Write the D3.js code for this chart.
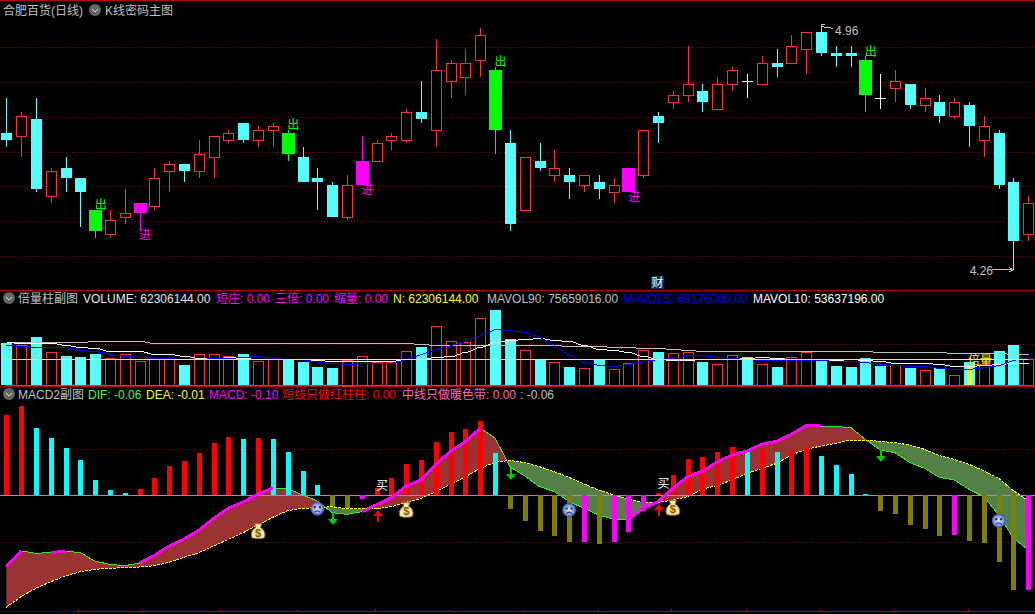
<!DOCTYPE html>
<html>
<head>
<meta charset="utf-8">
<style>
  body { margin: 0; background: #000; }
  svg { display: block; shape-rendering: crispEdges; font-family: "Liberation Sans", "Noto Sans CJK SC", sans-serif; font-size: 12px; }
</style>
<script src="https://cdn.jsdelivr.net/npm/d3@7"></script>
</head>
<body>
<svg id="chart" width="1035" height="614"></svg>
<script>
// K line, r = up, c = down, g = 出 signal, m = 进 signal, w = doji
const kinds = [
  "c","r","c","r","c","c","g","r","r","m",
  "r","r","c","r","r","r","c","r","r","g",
  "c","c","c","r","m","r","r","r","c","r",
  "r","r","r","g","c","r","c","r","c","r",
  "c","r","m","r","c","r","r","c","r","r",
  "w","r","c","r","r","c","c","c","g","w",
  "r","c","r","c","r","c","r","c","c","r"];
const highs = [4.75,4.71,4.75,4.55,4.58,4.52,4.43,4.43,4.49,4.45,
  4.55,4.57,4.56,4.63,4.64,4.66,4.68,4.67,4.68,4.66,
  4.61,4.55,4.51,4.53,4.64,4.63,4.65,4.72,4.80,4.92,
  4.86,4.89,4.95,4.84,4.66,4.58,4.62,4.60,4.55,4.53,
  4.53,4.52,4.55,4.66,4.71,4.77,4.90,4.79,4.81,4.84,
  4.82,4.87,4.89,4.93,4.94,4.96,4.90,4.90,4.87,4.82,
  4.83,4.79,4.78,4.76,4.75,4.74,4.70,4.66,4.52,4.47];
const bodyTops = [4.65,4.70,4.69,4.54,4.55,4.52,4.43,4.40,4.42,4.45,
  4.52,4.56,4.56,4.59,4.64,4.65,4.68,4.66,4.67,4.65,
  4.58,4.52,4.50,4.50,4.57,4.62,4.64,4.71,4.71,4.83,
  4.85,4.85,4.93,4.83,4.62,4.58,4.57,4.55,4.53,4.53,
  4.51,4.50,4.55,4.66,4.70,4.76,4.79,4.77,4.79,4.83,
  4.80,4.85,4.85,4.90,4.94,4.94,4.88,4.88,4.86,4.75,
  4.80,4.79,4.75,4.74,4.74,4.73,4.67,4.65,4.51,4.45];
const bodyBottoms = [4.63,4.64,4.49,4.47,4.52,4.48,4.37,4.36,4.41,4.42,
  4.44,4.54,4.54,4.54,4.58,4.63,4.63,4.63,4.66,4.59,
  4.51,4.51,4.41,4.41,4.50,4.57,4.63,4.63,4.69,4.66,
  4.80,4.81,4.86,4.66,4.39,4.43,4.55,4.53,4.51,4.50,
  4.49,4.48,4.48,4.53,4.68,4.74,4.76,4.74,4.72,4.79,
  4.80,4.79,4.84,4.85,4.89,4.88,4.87,4.87,4.76,4.75,
  4.78,4.73,4.73,4.70,4.70,4.67,4.63,4.50,4.34,4.36];
const lows = [4.61,4.58,4.48,4.45,4.48,4.38,4.35,4.35,4.39,4.37,
  4.43,4.48,4.51,4.52,4.52,4.62,4.62,4.61,4.61,4.57,
  4.51,4.43,4.41,4.40,4.50,4.57,4.60,4.62,4.68,4.61,
  4.75,4.76,4.81,4.59,4.37,4.43,4.54,4.51,4.46,4.48,
  4.46,4.45,4.48,4.52,4.62,4.72,4.74,4.71,4.72,4.77,
  4.75,4.79,4.81,4.85,4.82,4.87,4.84,4.84,4.71,4.72,
  4.74,4.72,4.71,4.68,4.69,4.61,4.58,4.49,4.26,4.34];
const priceGrid = [4.897,4.797,4.697,4.597,4.497,4.397,4.297];

// volume, millions
const volumes = [102,96,116,79.5,70.7,68.3,75.5,65,74.7,57.8,
  65,62.7,49,74.7,74.7,70,75.5,57.8,62.7,62.7,
  56,44,41.8,62,70,55.4,55.4,82,92.4,142,
  106,103.6,161.5,181.5,111.6,84.4,62.7,55.4,44,41,
  62.7,38.6,53,84.4,80.3,77,80.3,56,50.6,72.3,
  67.5,50.6,44,67.5,79.5,60.3,46.6,44,65.9,46.6,
  48.2,41.8,36,41.8,24,56,50.6,82.7,97,62.3];
const mavol90 = [105,105,105,105,105,105,106,106,106,106,
  102,102,102,102,102,102,102,102,102,102,
  102,102,102,101,101,101,101,101,98.8,96.4,
  96.4,96.4,96.4,96.4,96.4,96.4,96.4,96.4,95.6,94,
  94,92.4,92.4,90,90,88.4,84.3,82,82,82,
  82,82,82,82,82,82,82,82,82,79.5,
  79.5,79.5,79.5,79.5,77,77,77,77,75.66,75.66];
const mavol5 = [96.4,95.6,91.6,91.6,91.6,86,82.7,76.3,69.9,67.5,
  65.1,65.1,62.7,64.3,65.9,66.7,67.5,69.9,65.9,64.3,
  62.7,56.2,53,50.6,53,53,54.6,62.7,75.5,88.4,
  96.4,106,122,136.6,132.5,129.3,116.5,96.4,73.9,57,
  49,47.4,51.4,57.8,62.7,66.7,73.9,73.1,68.3,66.7,
  64.3,61,60.2,61,61,60.2,59.4,58.6,56.2,52.2,
  48.2,47.4,45.8,41.8,38.6,38.6,43.4,49.8,60.2,69.18];
const mavol10 = [105.2,102.8,102.8,102,98,92.4,90,81.9,81.9,81.9,
  76.3,74.7,69.9,65.9,64.3,67.5,65.9,64.3,64.3,63.5,
  64.3,61.9,59.4,59.4,58.6,57.8,59.4,62.7,64.3,69.1,
  71.5,79.5,91.6,104.4,110,111.7,114,110,106,98,
  88.4,86,80.3,69.9,62.7,61,61.9,62.7,62.7,64.3,
  65,67.5,65,64.3,64.3,61.9,60.2,57.8,60.2,57.8,
  54.6,54.6,53,50.6,45.8,45.8,48.2,50.6,53.6,53.6];
const nVolume = 62.3;
const volGrid = 98.8;
const beiliangBar = 65;
const beiliangLevel = 45.8;

// MACD
const macd = [0.085,0.094,0.071,0.061,0.050,0.037,0.016,0.006,0.002,0.007,
  0.018,0.031,0.036,0.045,0.055,0.062,0.059,0.061,0.059,0.046,
  0.026,0.011,-0.011,-0.013,-0.004,0.008,0.018,0.033,0.037,0.056,
  0.067,0.070,0.078,0.045,-0.014,-0.027,-0.038,-0.043,-0.049,-0.049,
  -0.051,-0.049,-0.039,-0.017,0.002,0.022,0.038,0.040,0.046,0.051,
  0.046,0.049,0.046,0.048,0.051,0.042,0.032,0.023,0.001,-0.017,
  -0.020,-0.031,-0.036,-0.043,-0.042,-0.048,-0.050,-0.070,-0.100,-0.100];
// r red, c cyan, o olive, m magenta
const macdKinds = ["r","r","c","c","c","c","c","c","c","r",
  "r","r","r","r","r","r","c","r","c","c",
  "c","c","o","o","m","r","r","r","r","r",
  "r","r","r","c","o","o","o","o","o","m",
  "o","m","m","m","r","r","r","r","r","r",
  "c","r","c","r","r","c","c","c","c","o",
  "o","o","o","o","m","o","o","o","o","m"];
const dif = [-0.0753,-0.0588,-0.0612,-0.0605,-0.0591,-0.0605,-0.0697,-0.0729,-0.0743,-0.0715,
  -0.0634,-0.0535,-0.0461,-0.0370,-0.0243,-0.0134,-0.0070,0.0014,0.0077,0.0070,
  0.0004,-0.0060,-0.0183,-0.0201,-0.0172,-0.0099,-0.0025,0.0099,0.0162,0.0327,
  0.0468,0.0567,0.0708,0.0605,0.0303,0.0204,0.0092,0.0039,-0.0067,-0.0137,
  -0.0208,-0.0253,-0.0253,-0.0137,-0.0067,0.0074,0.0197,0.0257,0.0352,0.0426,
  0.0468,0.0539,0.0570,0.0644,0.0736,0.0732,0.0725,0.0718,0.0591,0.0479,
  0.0451,0.0345,0.0285,0.0190,0.0162,0.0063,-0.0014,-0.0208,-0.0454,-0.0577];
const dea = [-0.1183,-0.1070,-0.0982,-0.0912,-0.0852,-0.0806,-0.0781,-0.0771,-0.0764,-0.0757,
  -0.0743,-0.0708,-0.0655,-0.0605,-0.0535,-0.0465,-0.0394,-0.0313,-0.0232,-0.0162,
  -0.0137,-0.0130,-0.0120,-0.0141,-0.0144,-0.0141,-0.0120,-0.0074,-0.0032,0.0039,
  0.0120,0.0197,0.0285,0.0348,0.0370,0.0345,0.0303,0.0250,0.0190,0.0120,
  0.0056,0.0004,-0.0042,-0.0074,-0.0077,-0.0049,-0.0014,0.0063,0.0106,0.0162,
  0.0232,0.0285,0.0338,0.0426,0.0486,0.0521,0.0549,0.0584,0.0584,0.0570,
  0.0556,0.0532,0.0486,0.0419,0.0380,0.0327,0.0260,0.0180,0.0049,-0.0056];
const macdGrid = [0.049,-0.049];
// stretches where DIF gets the thick magenta line
const risingSpans = [[0,1],[3,4],[9,18],[24,32],[42,55]];
// markers: [bar, macd value]
const moneyBags = [[17,-0.0384],[27,-0.0158],[45,-0.0137]];
const sadFaces = [[21,-0.0141],[38,-0.0155],[67,-0.0268]];
const downArrows = [[22,-0.019],[34,0.0285],[59,0.0479]];
const upArrows = [[25,-0.0155],[44,-0.0092]];
const buyMarks = [[25,0.0106],[44,0.0127]];
// bottom axis ticks, in bars
const timeTicks = [4.86,9.18,14.45,19.65,24.92,29.91,34.91,39.91,44.91,49.91,54.96,59.96,64.96];

const WIDTH = 1035;
const bars = d3.range(highs.length);
const kColor = { r: "#ff3232", c: "#54ffff", g: "#00ff00", m: "#ff00ff", w: "#ffffff" };
const macdColor = { r: "#ff0000", c: "#00ffff", o: "#808000", m: "#ff00ff" };
const LINE_RED = "#b80000";
const GRID_RED = "#900000";

const svg = d3.select("#chart");
svg.append("rect").attr("width", WIDTH).attr("height", 614).attr("fill", "#000");

const x = d3.scaleLinear().domain([0, bars.length - 1]).range([6.3, 1028.3]);
const px = (i) => Math.round(x(i));
const yPrice = d3.scaleLinear().domain([4.9, 4.3]).range([45.67, 255.25]);
const yVol = d3.scaleLinear().domain([0, 181.5]).range([385.33, 310]);
const yMacd = d3.scaleLinear().domain([-0.1, 0.1]).range([590, 400.67]);

// frame lines
[0.5, 290.5, 386.5, 611.5].forEach((y) => {
  svg.append("line").attr("x1", 0).attr("x2", WIDTH).attr("y1", y).attr("y2", y)
    .attr("stroke", LINE_RED);
});

function dotted(g, ys) {
  g.selectAll(".grid")
    .data(ys)
    .join("line")
    .attr("class", "grid")
    .attr("x1", 0)
    .attr("x2", WIDTH)
    .attr("y1", (d) => Math.round(d) + 0.5)
    .attr("y2", (d) => Math.round(d) + 0.5)
    .attr("stroke", GRID_RED)
    .attr("stroke-dasharray", "1,2");
}

// candles ------------------------------------
const kPane = svg.append("g");
dotted(kPane, priceGrid.map(yPrice));

const candle = kPane.selectAll(".candle").data(bars).join("g").attr("class", "candle");
candle.append("rect")
  .attr("x", (i) => px(i))
  .attr("width", 1)
  .attr("y", (i) => Math.round(yPrice(highs[i])))
  .attr("height", (i) => Math.max(1, Math.round(yPrice(lows[i])) - Math.round(yPrice(highs[i]))))
  .attr("fill", (i) => kColor[kinds[i]]);
candle.append("rect")
  .attr("x", (i) => {
    const k = kinds[i];
    if (k === "r") return px(i) - 5 + 0.5;
    return px(i) - (k === "g" || k === "m" ? 6 : 5);
  })
  .attr("width", (i) => {
    const k = kinds[i];
    return k === "r" ? 10 : k === "g" || k === "m" ? 13 : 11;
  })
  .attr("y", (i) => Math.round(yPrice(bodyTops[i])) + (kinds[i] === "r" ? 0.5 : 0))
  .attr("height", (i) => {
    const h = Math.round(yPrice(bodyBottoms[i])) - Math.round(yPrice(bodyTops[i]));
    return kinds[i] === "w" ? 1 : Math.max(kinds[i] === "r" ? 1 : 2, h);
  })
  .attr("fill", (i) => (kinds[i] === "r" ? "#000" : kColor[kinds[i]]))
  .attr("stroke", (i) => (kinds[i] === "r" ? kColor.r : "none"));
kPane.selectAll(".signal")
  .data(bars.filter((i) => kinds[i] === "g" || kinds[i] === "m"))
  .join("text")
  .attr("class", "signal")
  .attr("x", (i) => x(i) + 5.5)
  .attr("y", (i) => (kinds[i] === "g" ? yPrice(highs[i]) - 5 : yPrice(lows[i]) + 4) + 4.5)
  .attr("text-anchor", "middle")
  .attr("fill", (i) => kColor[kinds[i]])
  .text((i) => (kinds[i] === "g" ? "出" : "进"));

// high / low notes
const NOTE = "#c0c0c0";
const hiBar = d3.maxIndex(highs);
const loBar = d3.minIndex(lows);
const noteLine = d3.line();
kPane.append("path")
  .attr("d", noteLine([[px(hiBar), yPrice(highs[hiBar])], [px(hiBar) + 4, yPrice(highs[hiBar])]])
    + noteLine([[px(hiBar) + 1, yPrice(highs[hiBar]) + 2], [px(hiBar) + 9, yPrice(highs[hiBar]) + 3], [px(hiBar) + 12, yPrice(highs[hiBar]) + 4]]))
  .attr("fill", "none").attr("stroke", NOTE);
kPane.append("text").attr("x", px(hiBar) + 14).attr("y", yPrice(highs[hiBar]) + 10)
  .attr("fill", NOTE).text(d3.format(".2f")(highs[hiBar]));
kPane.append("path")
  .attr("d", noteLine([[px(loBar) - 21, yPrice(lows[loBar]) + 0.5], [px(loBar), yPrice(lows[loBar]) + 0.5]])
    + noteLine([[px(loBar) - 4, yPrice(lows[loBar]) - 2], [px(loBar), yPrice(lows[loBar]) + 0.5], [px(loBar) - 4, yPrice(lows[loBar]) + 3]]))
  .attr("fill", "none").attr("stroke", NOTE);
kPane.append("text").attr("x", px(loBar) - 20).attr("y", yPrice(lows[loBar]) + 6)
  .attr("text-anchor", "end").attr("fill", NOTE).text(d3.format(".2f")(lows[loBar]));

// 财 badge
svg.append("rect").attr("x", 651).attr("y", 276).attr("width", 13).attr("height", 13).attr("fill", "#003366");
svg.append("text").attr("x", 657.5).attr("y", 287).attr("text-anchor", "middle").attr("fill", "#fff").text("财");

// volume ------------------------------------
const volPane = svg.append("g");
dotted(volPane, [yVol(volGrid)]);
const isDownBar = (i) => kinds[i] === "c" || kinds[i] === "g" || kinds[i] === "w";
volPane.selectAll(".vol")
  .data(bars)
  .join("rect")
  .attr("class", "vol")
  .attr("x", (i) => px(i) - 5 + (isDownBar(i) ? 0 : 0.5))
  .attr("width", (i) => (isDownBar(i) ? 11 : 10))
  .attr("y", (i) => Math.round(yVol(volumes[i])) + (isDownBar(i) ? 0 : 0.5))
  .attr("height", (i) => Math.round(yVol(0) - yVol(volumes[i])))
  .attr("fill", (i) => (isDownBar(i) ? kColor.c : "#000"))
  .attr("stroke", (i) => (isDownBar(i) ? "none" : kColor.r));
volPane.append("rect")
  .attr("x", px(beiliangBar) - 2)
  .attr("width", 5)
  .attr("y", yVol(beiliangLevel))
  .attr("height", yVol(0) - yVol(beiliangLevel))
  .attr("fill", "#ffff00");
volPane.append("line").attr("x1", 6).attr("x2", px(bars.length - 1)).attr("y1", 385.5).attr("y2", 385.5)
  .attr("stroke", "#ff00ff");

const volLine = d3.line().x((i) => px(i) + 0.5);
const drawVolLine = (values, color, curve) => {
  volPane.append("path")
    .attr("d", volLine.y((i) => Math.round(yVol(values[i])) + 0.5).curve(curve)(bars))
    .attr("fill", "none")
    .attr("stroke", color);
};
drawVolLine(mavol90, "#c0c0c0", d3.curveBumpX);
drawVolLine(mavol10, "#ffffff", d3.curveBumpX);
drawVolLine(mavol5, "#0000ff", d3.curveLinear);
volPane.append("line")
  .attr("x1", 6).attr("x2", px(bars.length - 1))
  .attr("y1", Math.round(yVol(nVolume)) + 0.5).attr("y2", Math.round(yVol(nVolume)) + 0.5)
  .attr("stroke", "#ffff00");
volPane.append("text").attr("x", x(beiliangBar) - 1).attr("y", 365).attr("fill", "#ffff00").text("倍量");

// MACD ------------------------------------
const macdPane = svg.append("g");
dotted(macdPane, macdGrid.map(yMacd));

const defs = svg.append("defs");
const bandArea = (y0) => d3.area().x((i) => x(i)).y0(y0).y1((i) => yMacd(dea[i]));
defs.append("clipPath").attr("id", "above-dea").append("path").attr("d", bandArea(0)(bars));
defs.append("clipPath").attr("id", "below-dea").append("path").attr("d", bandArea(614)(bars));
const band = d3.area().x((i) => x(i)).y0((i) => yMacd(dea[i])).y1((i) => yMacd(dif[i]));
macdPane.append("path").attr("d", band(bars)).attr("fill", "#9c3333").attr("clip-path", "url(#above-dea)");
macdPane.append("path").attr("d", band(bars)).attr("fill", "#538045").attr("clip-path", "url(#below-dea)");

const macdLine = d3.line().x((i) => x(i));
macdPane.append("path")
  .attr("d", macdLine.y((i) => yMacd(dif[i]))(bars))
  .attr("fill", "none").attr("stroke", "#33ee22");
macdPane.append("path")
  .attr("d", macdLine.y((i) => yMacd(dea[i]))(bars))
  .attr("fill", "none").attr("stroke", "#ffff00").attr("stroke-dasharray", "3,1");

macdPane.append("line").attr("x1", 0).attr("x2", WIDTH)
  .attr("y1", Math.round(yMacd(0)) + 0.5).attr("y2", Math.round(yMacd(0)) + 0.5)
  .attr("stroke", "#e868b8");

macdPane.selectAll(".macd-bar")
  .data(bars)
  .join("rect")
  .attr("class", "macd-bar")
  .attr("x", (i) => px(i) - 2)
  .attr("width", 5)
  .attr("y", (i) => Math.min(yMacd(0), yMacd(macd[i])))
  .attr("height", (i) => Math.abs(yMacd(macd[i]) - yMacd(0)))
  .attr("fill", (i) => macdColor[macdKinds[i]]);

risingSpans.forEach(([from, to]) => {
  macdPane.append("path")
    .attr("d", macdLine.y((i) => yMacd(dif[i]))(d3.range(from, to + 1)))
    .attr("fill", "none")
    .attr("stroke", "#ff00ff")
    .attr("stroke-width", 3);
});

// arrows
macdPane.selectAll(".down-arrow")
  .data(downArrows)
  .join("path")
  .attr("class", "down-arrow")
  .attr("transform", (d) => `translate(${px(d[0])},${Math.round(yMacd(d[1]))})`)
  .attr("d", "M0,0H2V6H6L1,12L-4,6H0Z")
  .attr("fill", "#00cc00")
  .style("shape-rendering", "auto");
macdPane.selectAll(".up-arrow")
  .data(upArrows)
  .join("path")
  .attr("class", "up-arrow")
  .attr("transform", (d) => `translate(${px(d[0])},${Math.round(yMacd(d[1]))})`)
  .attr("d", "M1,0L6,6H2V12H0V6H-4Z")
  .attr("fill", "#ff0000")
  .style("shape-rendering", "auto");

macdPane.selectAll(".buy")
  .data(buyMarks)
  .join("text")
  .attr("class", "buy")
  .attr("x", (d) => x(d[0]) + 5.5)
  .attr("y", (d) => yMacd(d[1]) + 4.5)
  .attr("text-anchor", "middle")
  .attr("fill", "#fff")
  .text("买");

// money bags
const bag = macdPane.selectAll(".bag")
  .data(moneyBags)
  .join("g")
  .attr("class", "bag")
  .attr("transform", (d) => `translate(${x(d[0])},${yMacd(d[1])})`)
  .style("shape-rendering", "auto");
bag.append("path")
  .attr("d", "M-3.5,-8H3.5L2.5,-4C6.5,-2 7.5,2 6.5,5.5C5.5,7.5 -5.5,7.5 -6.5,5.5C-7.5,2 -6.5,-2 -2.5,-4Z")
  .attr("fill", "#f8e898")
  .attr("stroke", "#8a6a20");
bag.append("text")
  .attr("y", 5)
  .attr("text-anchor", "middle")
  .attr("font-size", 11)
  .attr("font-weight", "bold")
  .attr("fill", "#7a5a10")
  .text("$");

// sad faces
const faceGlow = defs.append("radialGradient").attr("id", "face-glow");
faceGlow.append("stop").attr("offset", "0%").attr("stop-color", "#dfe6ff");
faceGlow.append("stop").attr("offset", "65%").attr("stop-color", "#8aa0ea");
faceGlow.append("stop").attr("offset", "100%").attr("stop-color", "#2c44a8");
const face = macdPane.selectAll(".face")
  .data(sadFaces)
  .join("g")
  .attr("class", "face")
  .attr("transform", (d) => `translate(${x(d[0])},${yMacd(d[1])})`)
  .style("shape-rendering", "auto");
face.append("circle").attr("r", 7).attr("fill", "url(#face-glow)");
face.append("rect").attr("x", -3.5).attr("y", -2.5).attr("width", 2).attr("height", 2).attr("fill", "#223");
face.append("rect").attr("x", 1.5).attr("y", -2.5).attr("width", 2).attr("height", 2).attr("fill", "#223");
face.append("path").attr("d", "M-3,3.5Q0,0.5 3,3.5").attr("fill", "none").attr("stroke", "#223");

// bottom axis
svg.append("line").attr("x1", 0).attr("x2", x(timeTicks[0])).attr("y1", 611.5).attr("y2", 611.5).attr("stroke", "#0000c0");
svg.selectAll(".time-tick")
  .data(timeTicks)
  .join("line")
  .attr("class", "time-tick")
  .attr("x1", (d) => Math.round(x(d)) + 0.5)
  .attr("x2", (d) => Math.round(x(d)) + 0.5)
  .attr("y1", 609)
  .attr("y2", 612)
  .attr("stroke", LINE_RED);

// titles ------------------------------------
function label(xPos, y, text, color) {
  svg.append("text").attr("x", xPos).attr("y", y).attr("fill", color).text(text);
}
function menuButton(cx, cy) {
  svg.append("circle").attr("cx", cx).attr("cy", cy).attr("r", 6).attr("fill", "#666").style("shape-rendering", "auto");
  svg.append("path").attr("d", `M${cx - 3},${cy - 1}L${cx},${cy + 2}L${cx + 3},${cy - 1}`)
    .attr("fill", "none").attr("stroke", "#ddd").style("shape-rendering", "auto");
}

label(3, 15, "合肥百货(日线)", "#c0c0c0");
menuButton(95, 10);
label(105, 15, "K线密码主图", "#c0c0c0");

menuButton(9, 298);
label(18, 303, "倍量柱副图", "#c0c0c0");
label(83, 303, "VOLUME: 62306144.00", "#e8e8e8");
label(216, 303, "短庄: 0.00", "#ff00ff");
label(275, 303, "三倍: 0.00", "#ff00ff");
label(334, 303, "缩量: 0.00", "#ff00ff");
label(393, 303, "N: 62306144.00", "#ffff00");
label(487, 303, "MAVOL90: 75659016.00", "#c0c0c0");
label(623, 303, "MAVOL5: 69176000.00", "#0000ff");
label(753, 303, "MAVOL10: 53637196.00", "#ffffff");

menuButton(9, 394);
label(18, 399, "MACD2副图", "#c0c0c0");
label(88, 399, "DIF: -0.06", "#40ff40");
label(146, 399, "DEA: -0.01", "#ffff00");
label(209, 399, "MACD: -0.10", "#ff00ff");
label(282, 399, "短线只做红柱柱: 0.00", "#ff0000");
label(402, 399, "中线只做暖色带: 0.00", "#ff69b4");
label(520, 399, ": -0.06", "#c0c0c0");
</script>
</body>
</html>
